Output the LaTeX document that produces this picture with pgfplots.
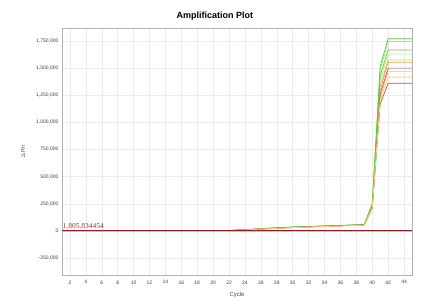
\documentclass[border=0pt]{standalone}
\usepackage{fontspec}
\setmainfont{Liberation Sans}
\newfontfamily\serifnum{Liberation Serif}
\usepackage{pgfplots}
\usepackage{pgfplotstable}
\pgfplotsset{compat=1.18}
\usetikzlibrary{calc}
\pgfplotstableread{
c s1 s2 s3 s4 s5 s6 s7 s8 s9 s10
1 0 0 0 0 0 0 0 0 0 0
20 0 500 -500 0 500 0 -500 0 500 0
22 3000 3500 2500 3000 2000 3000 2500 3500 2000 2500
24 10000 11000 9000 10000 8000 9500 9000 10500 8000 9000
26 20000 21000 18000 19000 16000 18000 17000 19000 16000 17000
28 28000 29000 26000 27000 24000 26000 25000 27000 23000 25000
30 35000 36000 33000 34000 31000 33000 32000 34000 30000 32000
32 40000 41000 38000 39000 36000 38000 37000 39000 35000 37000
34 45000 46000 43000 44000 41000 43000 42000 44000 40000 42000
36 50000 51000 48000 49000 46000 48000 47000 49000 45000 47000
38 55000 56000 53000 54000 51000 53000 52000 54000 50000 52000
39 58000 60000 56000 57000 54000 56000 55000 57000 53000 55000
40 250000 245000 240000 235000 230000 225000 220000 215000 210000 205000
41 1520000 1480000 1430000 1390000 1340000 1300000 1260000 1230000 1200000 1170000
42 1770000 1745000 1667000 1630000 1575000 1555000 1500000 1470000 1417000 1360000
43 1770000 1745000 1667000 1630000 1575000 1555000 1500000 1470000 1417000 1360000
44 1770000 1745000 1667000 1630000 1575000 1555000 1500000 1470000 1417000 1360000
45 1770000 1745000 1667000 1630000 1575000 1555000 1500000 1470000 1417000 1360000
}\amp
\definecolor{gA}{rgb}{0.35,0.80,0.25}
\definecolor{gB}{rgb}{0.62,0.90,0.52}
\definecolor{gC}{rgb}{0.45,0.75,0.20}
\definecolor{gD}{rgb}{0.72,0.92,0.60}
\definecolor{gE}{rgb}{0.75,0.85,0.30}
\definecolor{oA}{rgb}{0.95,0.60,0.30}
\definecolor{rA}{rgb}{0.85,0.30,0.30}
\definecolor{rB}{rgb}{0.95,0.70,0.65}
\definecolor{oB}{rgb}{0.98,0.85,0.45}
\definecolor{rC}{rgb}{0.70,0.35,0.30}
\definecolor{thr}{rgb}{0.60,0.10,0.15}
\begin{document}
\begin{tikzpicture}
\begin{axis}[
  scale only axis, width=350pt, height=247pt,
  xmin=1, xmax=45, ymin=-407000, ymax=1870000,
  xtick={2,4,...,44},
  ytick={-250000,0,250000,500000,750000,1000000,1250000,1500000,1750000},
  scaled y ticks=false,
  /pgf/number format/assume math mode=true,
  yticklabel style={/pgf/number format/fixed,/pgf/number format/1000 sep={,}, font=\fontsize{5}{6}\selectfont, text=black!75},
  xticklabel style={font=\fontsize{5}{6}\selectfont, text=black!75},
  grid=major, major grid style={gray!15, line width=0.4pt},
  axis line style={gray!60},
  tick style={draw=none},
  every x tick label/.append style={yshift=-2pt},
  clip=true,
]
\addplot[gD, line width=0.7pt] table[x=c,y=s4]{\amp};
\addplot[gB, line width=0.7pt] table[x=c,y=s2]{\amp};
\addplot[rB, line width=0.7pt] table[x=c,y=s8]{\amp};
\addplot[gE, line width=0.7pt] table[x=c,y=s5]{\amp};
\addplot[oA, line width=0.7pt] table[x=c,y=s6]{\amp};
\addplot[rA, line width=0.7pt] table[x=c,y=s7]{\amp};
\addplot[gC, line width=0.7pt] table[x=c,y=s3]{\amp};
\addplot[gA, line width=0.7pt] table[x=c,y=s1]{\amp};
\addplot[rC, line width=0.7pt] table[x=c,y=s10]{\amp};
\addplot[oB, line width=0.8pt] table[x=c,y=s9]{\amp};
\addplot[rB, line width=2.4pt] coordinates {(1,-2000) (45,-2000)};
\addplot[thr, line width=1.4pt] coordinates {(1,1805.834454) (45,1805.834454)};
\node[anchor=south west, inner sep=0.5pt, text=thr!90, font=\serifnum\fontsize{7.5}{8}\selectfont] at (axis cs:1,9000) {1,805.834454};
\coordinate (ll) at (rel axis cs:0,0);
\coordinate (ur) at (rel axis cs:1,1);
\end{axis}
\node[font=\bfseries\fontsize{9}{10}\selectfont] at ($(ll)!0.437!(ll-|ur)+(0,259pt)$) {Amplification Plot};
\node[font=\fontsize{5.5}{6}\selectfont, text=black!70, rotate=90] at ($(ll)+(-39pt,123pt)$) {$\Delta$Rn};
\node[font=\fontsize{6}{7}\selectfont, text=black!70] at ($(ll)+(175pt,-20pt)$) {Cycle};
\pgfresetboundingbox
\path ($(ll)+(-62pt,-28pt)$) rectangle ($(ur)+(23pt,28pt)$);
\end{tikzpicture}
\end{document}
